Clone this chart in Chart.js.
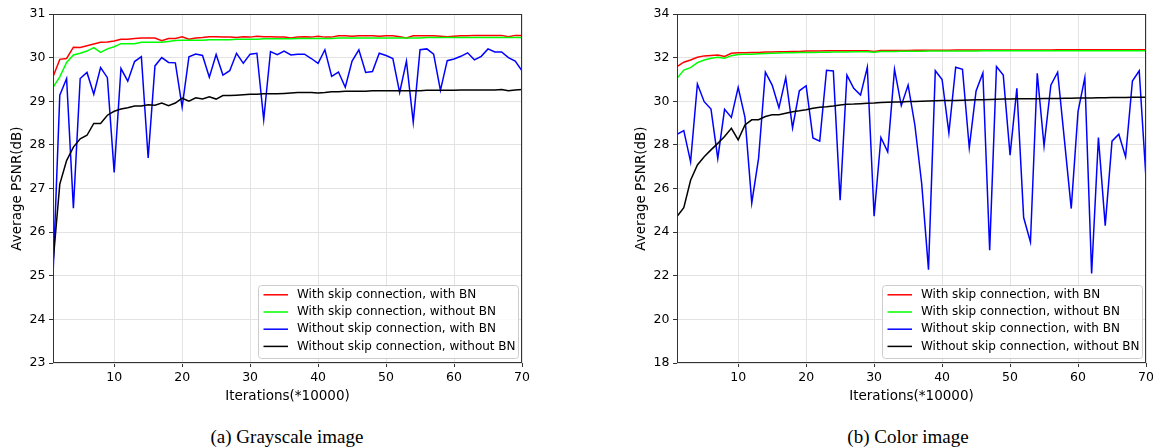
<!DOCTYPE html>
<html>
<head>
<meta charset="utf-8">
<script src="https://cdn.jsdelivr.net/npm/chart.js@4"></script>
<style>
  body { margin: 0; background: #fff; width: 1153px; height: 448px; position: relative; overflow: hidden; }
  canvas { position: absolute; top: 0; }
  #grayChart { left: 0; }
  #colorChart { left: 560px; }
  .caption { position: absolute; top: 427px; line-height: 20px; font-family: "Liberation Serif", serif; font-size: 19px; color: #000; transform: translateX(-50%); white-space: nowrap; }
</style>
</head>
<body>
<canvas id="grayChart" width="576" height="410"></canvas>
<canvas id="colorChart" width="600" height="410"></canvas>
<div class="caption" style="left:287px">(a) Grayscale image</div>
<div class="caption" style="left:908px">(b) Color image</div>
<script>
// iterations (*10000), one point per step
const iterations = [];
for (let i = 1; i <= 70; i++) iterations.push(i);
const xTicks = [10, 20, 30, 40, 50, 60, 70];

const labels = [
    'With skip connection, with BN',
    'With skip connection, without BN',
    'Without skip connection, with BN',
    'Without skip connection, without BN'
];
const colors = ['#ff0000', '#00ff00', '#0000ff', '#000000'];

// (a) grayscale
const grayRed = [29.56, 29.96, 29.98, 30.24, 30.23, 30.27, 30.31, 30.35, 30.36, 30.38,
    30.42, 30.42, 30.44, 30.45, 30.45, 30.45, 30.39, 30.44, 30.44, 30.48,
    30.42, 30.45, 30.46, 30.48, 30.48, 30.47, 30.47, 30.46, 30.48, 30.47,
    30.49, 30.48, 30.48, 30.47, 30.47, 30.45, 30.47, 30.48, 30.47, 30.49,
    30.47, 30.47, 30.50, 30.50, 30.49, 30.50, 30.50, 30.50, 30.49, 30.50,
    30.50, 30.48, 30.45, 30.50, 30.50, 30.50, 30.50, 30.49, 30.48, 30.49,
    30.50, 30.50, 30.51, 30.51, 30.51, 30.51, 30.51, 30.48, 30.51, 30.51];
const grayGreen = [29.32, 29.56, 29.89, 30.06, 30.10, 30.15, 30.23, 30.12, 30.20, 30.25,
    30.32, 30.32, 30.32, 30.35, 30.35, 30.35, 30.35, 30.37, 30.39, 30.40,
    30.40, 30.40, 30.40, 30.41, 30.41, 30.41, 30.41, 30.42, 30.42, 30.42,
    30.42, 30.43, 30.43, 30.43, 30.43, 30.43, 30.44, 30.44, 30.44, 30.44,
    30.44, 30.44, 30.45, 30.45, 30.45, 30.45, 30.45, 30.45, 30.45, 30.45,
    30.45, 30.45, 30.45, 30.45, 30.45, 30.46, 30.46, 30.46, 30.46, 30.46,
    30.46, 30.46, 30.46, 30.46, 30.46, 30.46, 30.46, 30.46, 30.46, 30.46];
const grayBlue = [25.00, 29.14, 29.52, 26.55, 29.52, 29.66, 29.16, 29.77, 29.54, 27.37,
    29.75, 29.46, 29.91, 30.02, 27.70, 29.81, 30.00, 29.89, 29.88, 28.87,
    30.02, 30.08, 30.05, 29.55, 30.07, 29.60, 29.70, 30.10, 29.87, 30.08,
    30.10, 28.58, 30.14, 30.07, 30.15, 30.06, 30.08, 30.08, 29.98, 29.87,
    30.18, 29.57, 29.67, 29.32, 29.92, 30.18, 29.66, 29.68, 30.10, 30.05,
    29.98, 29.20, 29.92, 28.52, 30.18, 30.20, 30.08, 29.25, 29.93, 29.97,
    30.03, 30.11, 29.95, 30.03, 30.20, 30.13, 30.13, 30.00, 29.92, 29.70];
const grayBlack = [25.30, 27.10, 27.64, 27.95, 28.14, 28.22, 28.49, 28.49, 28.68, 28.77,
    28.82, 28.85, 28.89, 28.89, 28.92, 28.91, 28.96, 28.90, 28.96, 29.07,
    29.00, 29.08, 29.05, 29.10, 29.05, 29.13, 29.13, 29.14, 29.15, 29.16,
    29.16, 29.17, 29.17, 29.17, 29.18, 29.19, 29.20, 29.20, 29.20, 29.19,
    29.20, 29.22, 29.22, 29.23, 29.23, 29.23, 29.23, 29.24, 29.24, 29.24,
    29.24, 29.24, 29.24, 29.24, 29.24, 29.25, 29.25, 29.25, 29.25, 29.25,
    29.26, 29.26, 29.26, 29.26, 29.26, 29.26, 29.27, 29.24, 29.26, 29.27];

// (b) color
const colorRed = [31.59, 31.79, 31.89, 32.02, 32.08, 32.10, 32.12, 32.05, 32.20, 32.22,
    32.22, 32.24, 32.24, 32.26, 32.26, 32.27, 32.27, 32.28, 32.28, 32.30,
    32.30, 32.30, 32.31, 32.31, 32.32, 32.32, 32.32, 32.32, 32.31, 32.28,
    32.33, 32.33, 32.33, 32.33, 32.33, 32.34, 32.34, 32.34, 32.34, 32.34,
    32.34, 32.35, 32.35, 32.35, 32.35, 32.35, 32.35, 32.35, 32.35, 32.35,
    32.35, 32.35, 32.35, 32.35, 32.35, 32.35, 32.36, 32.36, 32.36, 32.36,
    32.36, 32.36, 32.36, 32.36, 32.36, 32.36, 32.36, 32.36, 32.36, 32.36];
const colorGreen = [31.05, 31.43, 31.54, 31.77, 31.89, 31.97, 32.02, 31.97, 32.09, 32.14,
    32.15, 32.16, 32.18, 32.19, 32.20, 32.21, 32.22, 32.22, 32.23, 32.24,
    32.24, 32.25, 32.25, 32.26, 32.26, 32.26, 32.27, 32.27, 32.27, 32.25,
    32.28, 32.28, 32.28, 32.29, 32.29, 32.29, 32.29, 32.30, 32.30, 32.30,
    32.30, 32.30, 32.30, 32.30, 32.30, 32.31, 32.31, 32.31, 32.31, 32.31,
    32.31, 32.31, 32.31, 32.31, 32.31, 32.31, 32.31, 32.31, 32.31, 32.31,
    32.31, 32.31, 32.31, 32.31, 32.31, 32.31, 32.32, 32.32, 32.32, 32.32];
const colorBlue = [28.48, 28.65, 27.22, 30.79, 29.98, 29.64, 27.38, 29.63, 29.26, 30.64,
    29.26, 25.34, 27.38, 31.33, 30.74, 29.70, 31.08, 28.78, 30.48, 30.71,
    28.32, 28.17, 31.42, 31.39, 25.46, 31.20, 30.59, 30.28, 31.56, 24.73,
    28.34, 27.68, 31.46, 29.80, 30.74, 28.90, 26.22, 22.28, 31.40, 31.00,
    28.55, 31.56, 31.46, 27.87, 30.47, 31.30, 23.17, 31.59, 31.20, 27.53,
    30.59, 24.67, 23.55, 31.28, 27.95, 30.74, 31.33, 28.22, 25.08, 29.52,
    31.08, 22.10, 28.34, 24.30, 28.17, 28.49, 27.45, 30.93, 31.40, 26.46];
const colorBlack = [24.72, 25.12, 26.38, 27.08, 27.46, 27.77, 28.07, 28.38, 28.76, 28.23,
    28.91, 29.15, 29.15, 29.30, 29.38, 29.38, 29.45, 29.52, 29.56, 29.61,
    29.68, 29.73, 29.75, 29.78, 29.83, 29.86, 29.87, 29.89, 29.91, 29.92,
    29.94, 29.95, 29.96, 29.97, 29.99, 29.99, 30.00, 30.01, 30.02, 30.03,
    30.03, 30.04, 30.05, 30.06, 30.07, 30.07, 30.08, 30.09, 30.10, 30.10,
    30.11, 30.11, 30.12, 30.12, 30.13, 30.13, 30.13, 30.14, 30.14, 30.15,
    30.15, 30.15, 30.16, 30.16, 30.17, 30.17, 30.17, 30.18, 30.18, 30.18];

const FONT = '"DejaVu Sans", sans-serif';

// matplotlib-like frame round the plot area
const framePlugin = {
    id: 'frame',
    afterDatasetsDraw(chart) {
        const {ctx, chartArea: a} = chart;
        ctx.save();
        ctx.strokeStyle = '#333';
        ctx.lineWidth = 1;
        ctx.strokeRect(Math.round(a.left) + 0.5, Math.round(a.top) + 0.5,
            Math.round(a.right - a.left) - 1, Math.round(a.bottom - a.top) - 1);
        ctx.restore();
    }
};

// boxed legend at the lower right inside the plot area
const boxLegend = {
    id: 'boxLegend',
    afterDraw(chart) {
        const {ctx, chartArea: a} = chart;
        const w = 260, h = 73, rowH = 17.2;
        const x0 = a.right - 4 - w, y0 = a.bottom - 5 - h;
        ctx.save();
        ctx.beginPath();
        ctx.roundRect(x0 + 0.5, y0 + 0.5, w, h, 3);
        ctx.fillStyle = 'rgba(255,255,255,0.8)';
        ctx.fill();
        ctx.strokeStyle = '#cccccc';
        ctx.lineWidth = 1;
        ctx.stroke();
        ctx.font = '12px ' + FONT;
        ctx.textBaseline = 'middle';
        chart.data.datasets.forEach((ds, i) => {
            const y = y0 + 9.8 + i * rowH;
            ctx.beginPath();
            ctx.moveTo(x0 + 5.5, y);
            ctx.lineTo(x0 + 30, y);
            ctx.strokeStyle = ds.borderColor;
            ctx.lineWidth = 1.5;
            ctx.stroke();
            ctx.fillStyle = '#000';
            ctx.fillText(ds.label, x0 + 39, y);
        });
        ctx.restore();
    }
};

function makeChart(canvasId, series, yMin, yMax, yStep, padLeft, padRight) {
    const datasets = series.map((vals, i) => ({
        label: labels[i],
        data: iterations.map((x, j) => ({x: x, y: vals[j]})),
        borderColor: colors[i],
        borderWidth: 1.5,
        pointRadius: 0,
        tension: 0,
        fill: false,
        order: series.length - i
    }));
    return new Chart(document.getElementById(canvasId), {
        type: 'line',
        data: {datasets: datasets},
        plugins: [framePlugin, boxLegend],
        options: {
            responsive: false,
            animation: false,
            devicePixelRatio: 1,
            layout: {padding: {left: padLeft, right: padRight, top: 14, bottom: 0}},
            plugins: {legend: {display: false}, tooltip: {enabled: false}},
            scales: {
                x: {
                    type: 'linear',
                    min: 1,
                    max: 70,
                    afterBuildTicks: (s) => { s.ticks = xTicks.map(v => ({value: v})); },
                    afterFit: (s) => { s.height = 47; },
                    ticks: {color: '#000', font: {family: FONT, size: 12.5}, padding: 3, maxRotation: 0},
                    grid: {color: '#e3e3e3', lineWidth: 1, tickColor: '#333', tickLength: 4},
                    border: {display: false},
                    title: {display: true, text: 'Iterations(*10000)', color: '#000',
                        font: {family: FONT, size: 13.5}, padding: {top: 0, bottom: 5}}
                },
                y: {
                    min: yMin,
                    max: yMax,
                    afterFit: (s) => { s.width = 53; },
                    ticks: {stepSize: yStep, color: '#000', font: {family: FONT, size: 12.5}, padding: 3.5},
                    grid: {color: '#e3e3e3', lineWidth: 1, tickColor: '#333', tickLength: 4},
                    border: {display: false},
                    title: {display: true, text: 'Average PSNR(dB)', color: '#000',
                        font: {family: FONT, size: 13.5}, padding: {top: 9, bottom: 0}}
                }
            }
        }
    });
}

makeChart('grayChart', [grayRed, grayGreen, grayBlue, grayBlack], 23, 31, 1, 0, 54);
makeChart('colorChart', [colorRed, colorGreen, colorBlue, colorBlack], 18, 34, 2, 64, 14);
</script>
</body>
</html>
